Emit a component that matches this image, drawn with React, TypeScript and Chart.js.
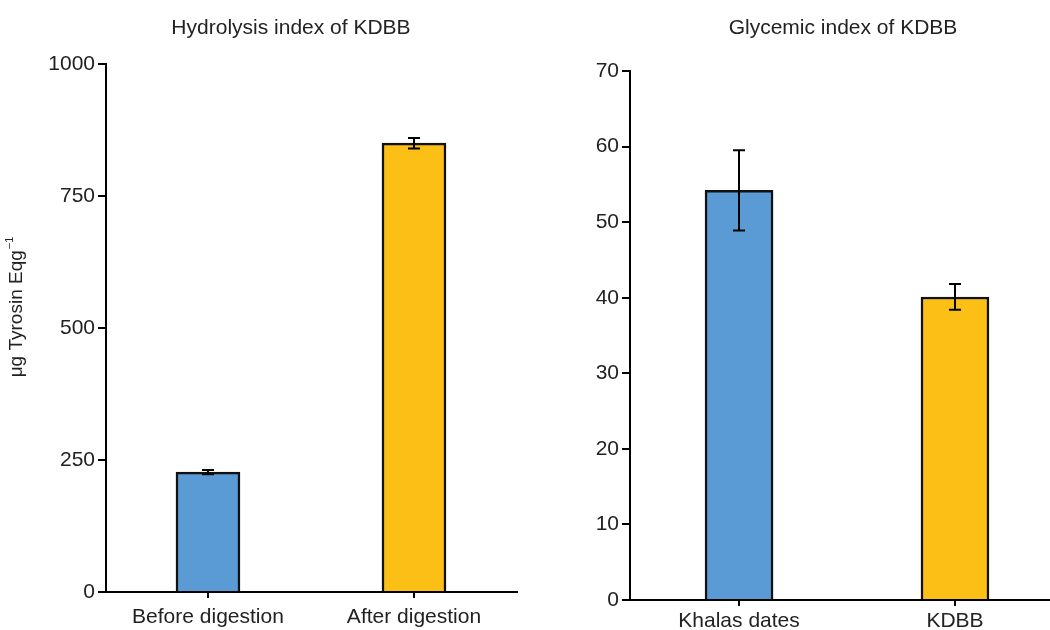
import React, { useEffect, useRef } from "react";
import { Chart, registerables } from "chart.js";

Chart.register(...registerables);

// ---- data ----
const hydroCategories = ["Before digestion", "After digestion"];
const hydroValues = [227, 850];
const hydroErrors = [4, 10];
const hydroTicks = [0, 250, 500, 750, 1000];

const glyCategories = ["Khalas dates", "KDBB"];
const glyValues = [54.2, 40.1];
const glyErrors = [5.3, 1.7];
const glyTicks = [0, 10, 20, 30, 40, 50, 60, 70];

const hydroTitle = "Hydrolysis index of KDBB";
const glyTitle = "Glycemic index of KDBB";
const hydroYLabel = "μg Tyrosin Eqg";
const hydroYLabelSup = "−1";

const barColors = ["#5B9BD5", "#FCBF16"];

const FONT = "'Liberation Sans', Arial, Helvetica, sans-serif";
const TEXT = "#222222";
const FS = 21;

const errorBarPlugin = {
  id: "errorBars",
  afterDatasetsDraw(chart: any, _args: any, opts: any) {
    const meta = chart.getDatasetMeta(0);
    const ds = chart.data.datasets[0];
    const ys = chart.scales.y;
    const ctx = chart.ctx;
    ctx.save();
    ctx.strokeStyle = "#000";
    ctx.lineWidth = 2;
    meta.data.forEach((el: any, i: number) => {
      const v = ds.data[i].y;
      const e = opts.errors[i];
      const x = Math.round(el.x);
      const yTop = ys.getPixelForValue(v + e);
      const yBot = ys.getPixelForValue(v - e);
      const c = opts.cap;
      ctx.beginPath();
      ctx.moveTo(x, yTop);
      ctx.lineTo(x, yBot);
      ctx.moveTo(x - c, yTop);
      ctx.lineTo(x + c, yTop);
      ctx.moveTo(x - c, yBot);
      ctx.lineTo(x + c, yBot);
      ctx.stroke();
    });
    ctx.restore();
  },
};

const textPlugin = {
  id: "panelTexts",
  afterDraw(chart: any, _args: any, opts: any) {
    const ctx = chart.ctx;
    ctx.save();
    ctx.fillStyle = TEXT;
    ctx.font = `${opts.titleSize}px ${FONT}`;
    ctx.textAlign = "center";
    ctx.textBaseline = "middle";
    ctx.fillText(opts.title, opts.titleX, opts.titleY);
    if (opts.yLabel) {
      ctx.translate(opts.yLabelX, opts.yLabelY);
      ctx.rotate(-Math.PI / 2);
      ctx.font = `${opts.yLabelSize}px ${FONT}`;
      const w1 = ctx.measureText(opts.yLabel).width;
      ctx.font = `${Math.round(opts.yLabelSize * 0.6)}px ${FONT}`;
      const w2 = ctx.measureText(opts.yLabelSup).width;
      const start = -(w1 + w2 + 1) / 2;
      ctx.textAlign = "left";
      ctx.font = `${opts.yLabelSize}px ${FONT}`;
      ctx.fillText(opts.yLabel, start, 0);
      ctx.font = `${Math.round(opts.yLabelSize * 0.6)}px ${FONT}`;
      ctx.fillText(opts.yLabelSup, start + w1 + 1, -opts.yLabelSize * 0.38);
    }
    ctx.restore();
  },
};

type PanelProps = {
  width: number;
  left: number;
  categories: string[];
  values: number[];
  errors: number[];
  yTicks: number[];
  xMin: number;
  xMax: number;
  yAxisWidth: number;
  xAxisHeight: number;
  padTop: number;
  padRight: number;
  barThickness: number;
  xLabelPad: number;
  texts: any;
};

function BarPanel(p: PanelProps) {
  const ref = useRef<HTMLCanvasElement | null>(null);
  useEffect(() => {
    if (!ref.current) return;
    const yMax = p.yTicks[p.yTicks.length - 1];
    const step = p.yTicks[1] - p.yTicks[0];
    const chart = new Chart(ref.current, {
      type: "bar",
      data: {
        datasets: [
          {
            data: p.values.map((v, i) => ({ x: i, y: v })),
            backgroundColor: barColors,
            borderColor: "#111111",
            borderWidth: 2.5,
            barThickness: p.barThickness,
          } as any,
        ],
      },
      options: {
        responsive: false,
        animation: false,
        layout: { padding: { top: p.padTop, right: p.padRight, left: 0, bottom: 0 } },
        plugins: {
          legend: { display: false },
          tooltip: { enabled: false },
          title: { display: false },
          errorBars: { errors: p.errors, cap: 6 },
          panelTexts: p.texts,
        } as any,
        scales: {
          x: {
            type: "linear",
            offset: false,
            min: p.xMin,
            max: p.xMax,
            afterBuildTicks: (s: any) => {
              s.ticks = p.categories.map((_c, i) => ({ value: i }));
            },
            afterFit: (s: any) => {
              s.height = p.xAxisHeight;
            },
            ticks: {
              autoSkip: false,
              maxRotation: 0,
              padding: p.xLabelPad,
              color: TEXT,
              font: { family: FONT, size: FS },
              callback: (v: any) => p.categories[Math.round(Number(v))] ?? "",
            },
            grid: {
              offset: false,
              drawOnChartArea: false,
              drawTicks: true,
              tickLength: 6,
              color: "#000",
              lineWidth: 2,
            },
            border: { display: true, color: "#000", width: 2 },
          } as any,
          y: {
            min: 0,
            max: yMax,
            afterFit: (s: any) => {
              s.width = p.yAxisWidth;
            },
            ticks: {
              stepSize: step,
              padding: 3,
              color: TEXT,
              font: { family: FONT, size: FS },
              callback: (v: any) => String(v),
            },
            grid: {
              drawOnChartArea: false,
              drawTicks: true,
              tickLength: 8,
              color: "#000",
              lineWidth: 2,
            },
            border: { display: true, color: "#000", width: 2 },
          },
        },
      },
      plugins: [errorBarPlugin, textPlugin],
    });
    return () => chart.destroy();
  }, []);
  return (
    <canvas
      ref={ref}
      width={p.width}
      height={630}
      style={{ position: "absolute", left: p.left, top: 0, width: p.width, height: 630 }}
    />
  );
}

export default function App() {
  return (
    <div
      style={{
        position: "absolute",
        left: 0,
        top: 0,
        width: 1050,
        height: 630,
        overflow: "hidden",
        background: "#fff",
      }}
    >
      <BarPanel
        width={530}
        left={0}
        categories={hydroCategories}
        values={hydroValues}
        errors={hydroErrors}
        yTicks={hydroTicks}
        xMin={-0.495}
        xMax={1.5}
        yAxisWidth={106}
        xAxisHeight={38}
        padTop={64}
        padRight={13}
        barThickness={64}
        xLabelPad={7}
        texts={{
          title: hydroTitle,
          titleSize: 21,
          titleX: 291,
          titleY: 28,
          yLabel: hydroYLabel,
          yLabelSup: hydroYLabelSup,
          yLabelSize: 19,
          yLabelX: 17,
          yLabelY: 307,
        }}
      />
      <BarPanel
        width={520}
        left={530}
        categories={glyCategories}
        values={glyValues}
        errors={glyErrors}
        yTicks={glyTicks}
        xMin={-0.505}
        xMax={1.44}
        yAxisWidth={100}
        xAxisHeight={30}
        padTop={71}
        padRight={0}
        barThickness={68}
        xLabelPad={3}
        texts={{
          title: glyTitle,
          titleSize: 21,
          titleX: 313,
          titleY: 28,
        }}
      />
    </div>
  );
}
